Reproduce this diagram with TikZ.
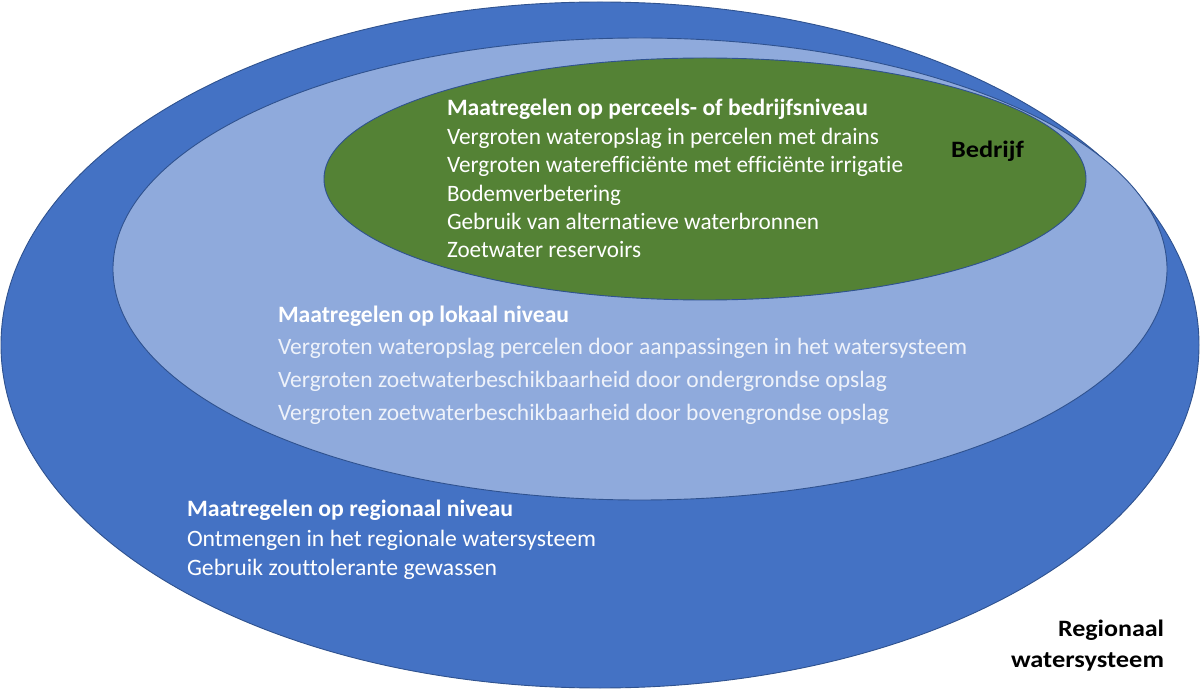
\documentclass[tikz,border=0pt]{standalone}
\usepackage{fontspec}
\setmainfont[Ligatures=NoCommon]{Carlito}
\usepackage{graphicx}
\definecolor{outerblue}{HTML}{4472C4}
\definecolor{midblue}{HTML}{8FAADC}
\definecolor{innergreen}{HTML}{548235}
\definecolor{edgeblue}{HTML}{2F528F}
\definecolor{paletext}{HTML}{EEF2FA}
\newcommand{\fitw}[2]{\resizebox{#1}{\height}{#2}}
\tikzset{
  zone/.style={draw=edgeblue, line width=0.9pt},
  txt/.style={anchor=base west, inner sep=0pt, outer sep=0pt, font=\fontsize{23.5}{28}\selectfont},
  head/.style={txt, text=white, font=\fontsize{23.5}{28}\selectfont\bfseries},
  body/.style={txt, text=white},
  pale/.style={txt, text=paletext},
  label/.style={inner sep=0pt, outer sep=0pt, text=black, font=\fontsize{23.5}{28}\selectfont\bfseries},
}
\begin{document}
\begin{tikzpicture}[x=1pt,y=-1pt]
\useasboundingbox (0,0) rectangle (1200,692);
% ellipses
\fill[outerblue] (600,345) ellipse [x radius=599pt, y radius=343pt];
\draw[zone] (600,345) ellipse [x radius=599pt, y radius=343pt];
\filldraw[zone, fill=midblue] (640,269) ellipse [x radius=527pt, y radius=231pt];
\filldraw[zone, fill=innergreen] (705,179) ellipse [x radius=381pt, y radius=121pt];
% green texts
\node[head] (g0) at (447,116) {\fitw{421pt}{Maatregelen op perceels- of bedrijfsniveau}};
\node[body] (g1) at (447,145) {\fitw{432pt}{Vergroten wateropslag in percelen met drains}};
\node[body] (g2) at (447,173) {\fitw{456pt}{Vergroten waterefficiënte met efficiënte irrigatie}};
\node[body] (g3) at (447,202) {\fitw{174pt}{Bodemverbetering}};
\node[body] (g4) at (447,230) {\fitw{372pt}{Gebruik van alternatieve waterbronnen}};
\node[body] (g5) at (447,258) {\fitw{194pt}{Zoetwater reservoirs}};
\node[label, anchor=base west] (bedrijf) at (951,158) {\fitw{73pt}{Bedrijf}};
% lokaal texts
\node[head] (l0) at (278,323) {\fitw{291pt}{Maatregelen op lokaal niveau}};
\node[pale] (l1) at (278,355) {\fitw{689pt}{Vergroten wateropslag percelen door aanpassingen in het watersysteem}};
\node[pale] (l2) at (278,388) {\fitw{609pt}{Vergroten zoetwaterbeschikbaarheid door ondergrondse opslag}};
\node[pale] (l3) at (278,421) {\fitw{611pt}{Vergroten zoetwaterbeschikbaarheid door bovengrondse opslag}};
% regional texts
\node[head] (r0) at (187,517) {\fitw{326pt}{Maatregelen op regionaal niveau}};
\node[body] (r1) at (187,547) {\fitw{409pt}{Ontmengen in het regionale watersysteem}};
\node[body] (r2) at (187,575) {\fitw{310pt}{Gebruik zouttolerante gewassen}};
\node[label, anchor=base east] (reg1) at (1164,636) {\fitw{106pt}{Regionaal}};
\node[label, anchor=base east] (reg2) at (1164,667) {\fitw{153pt}{watersysteem}};
\end{tikzpicture}
\end{document}
